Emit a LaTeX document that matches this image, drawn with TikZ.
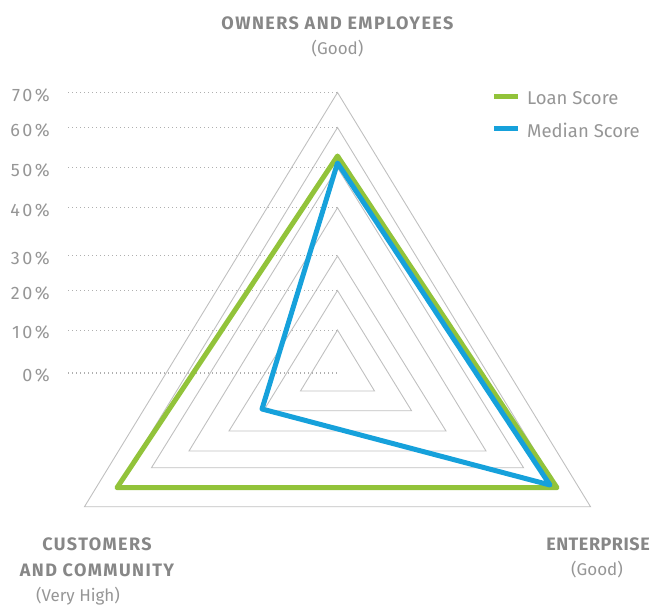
\documentclass[tikz,border=0pt]{standalone}
\usepackage{fontspec}
\setmainfont{Fira Sans}
\definecolor{lgreen}{RGB}{146,195,58}
\definecolor{lblue}{RGB}{22,161,219}
\definecolor{gridc}{RGB}{192,192,192}
\definecolor{dotc}{RGB}{175,175,175}
\definecolor{txtb}{RGB}{135,135,135}
\definecolor{txtl}{RGB}{150,150,150}
\newfontfamily\spacedfont[LetterSpace=8]{Fira Sans}
\newfontfamily\narrowfont[LetterSpace=3]{Fira Sans}
\newfontfamily\pctfont[LetterSpace=14]{Fira Sans}
\tikzset{
  gridline/.style={draw=gridc, line width=0.9pt, line join=miter},
  dotline/.style={draw=dotc, line width=1.2pt, dash pattern=on 1.2pt off 2.8pt},
  pct/.style={text=txtl, font=\pctfont\fontsize{18}{20}\selectfont, anchor=east, inner sep=0pt},
  axlabel/.style={text=txtb, font=\spacedfont\fontsize{18}{20}\selectfont\bfseries, inner sep=0pt},
  axlabeln/.style={text=txtb, font=\narrowfont\fontsize{18}{20}\selectfont\bfseries, inner sep=0pt},
  sublabel/.style={text=txtl, font=\fontsize{17}{20}\selectfont, inner sep=0pt},
  leglabel/.style={text=txtl, font=\fontsize{18.5}{20}\selectfont, anchor=west, inner sep=0pt},
  series/.style={line width=5pt, line join=round, line cap=round},
}
\begin{document}
\begin{tikzpicture}[x=1pt,y=-1pt]
\useasboundingbox (0,0) rectangle (654,607);
% concentric triangles
\foreach \a/\b/\h in {92.5/506.7/253, 127.5/487.7/220, 167.7/467.7/186, 207.7/451/148.5, 256/431/108.5, 290.5/410.7/74, 330/391/37}{
  \draw[gridline] (337.5,\a) -- (337.5+\h,\b) -- (337.5-\h,\b) -- cycle;
}
% dotted level lines and labels
\foreach \y/\l in {92.5/70, 127.5/60, 167.7/50, 207.7/40, 255.7/30, 290.5/20, 330.3/10, 373/0}{
  \draw[dotline] (68,\y) -- (337.5,\y);
  \node[pct] at (50,\y+2.5) {\l\%};
}
% series
\coordinate (gA) at (337.5,156);
\coordinate (gL) at (117,487.7);
\coordinate (gR) at (557,487.7);
\coordinate (bA) at (337.5,163);
\coordinate (bL) at (262,409);
\coordinate (bR) at (550,485);
\draw[series, lgreen] (gA) -- (gR) -- (gL) -- cycle;
\draw[series, lblue] (bA) -- (bR) -- (bL) -- cycle;
% legend
\coordinate (l1a) at (494,97); \coordinate (l1b) at (518,97);
\coordinate (l2a) at (494,129); \coordinate (l2b) at (518,129);
\draw[lgreen, line width=5pt] (l1a) -- (l1b);
\draw[lblue, line width=5pt] (l2a) -- (l2b);
\node[leglabel] (leg1) at (527,98) {Loan Score};
\node[leglabel] (leg2) at (527,130) {Median Score};
% axis labels
\node[axlabel] (top) at (337.5,23) {OWNERS AND EMPLOYEES};
\node[sublabel] (topg) at (337.5,49) {(Good)};
\node[axlabel] (cust1) at (97,544) {CUSTOMERS};
\node[axlabel] (cust2) at (97,570) {AND COMMUNITY};
\node[sublabel] (cust3) at (78,596) {(Very High)};
\node[axlabeln] (ent) at (598,544) {ENTERPRISE};
\node[sublabel] (entg) at (597,570) {(Good)};
\end{tikzpicture}
\end{document}
